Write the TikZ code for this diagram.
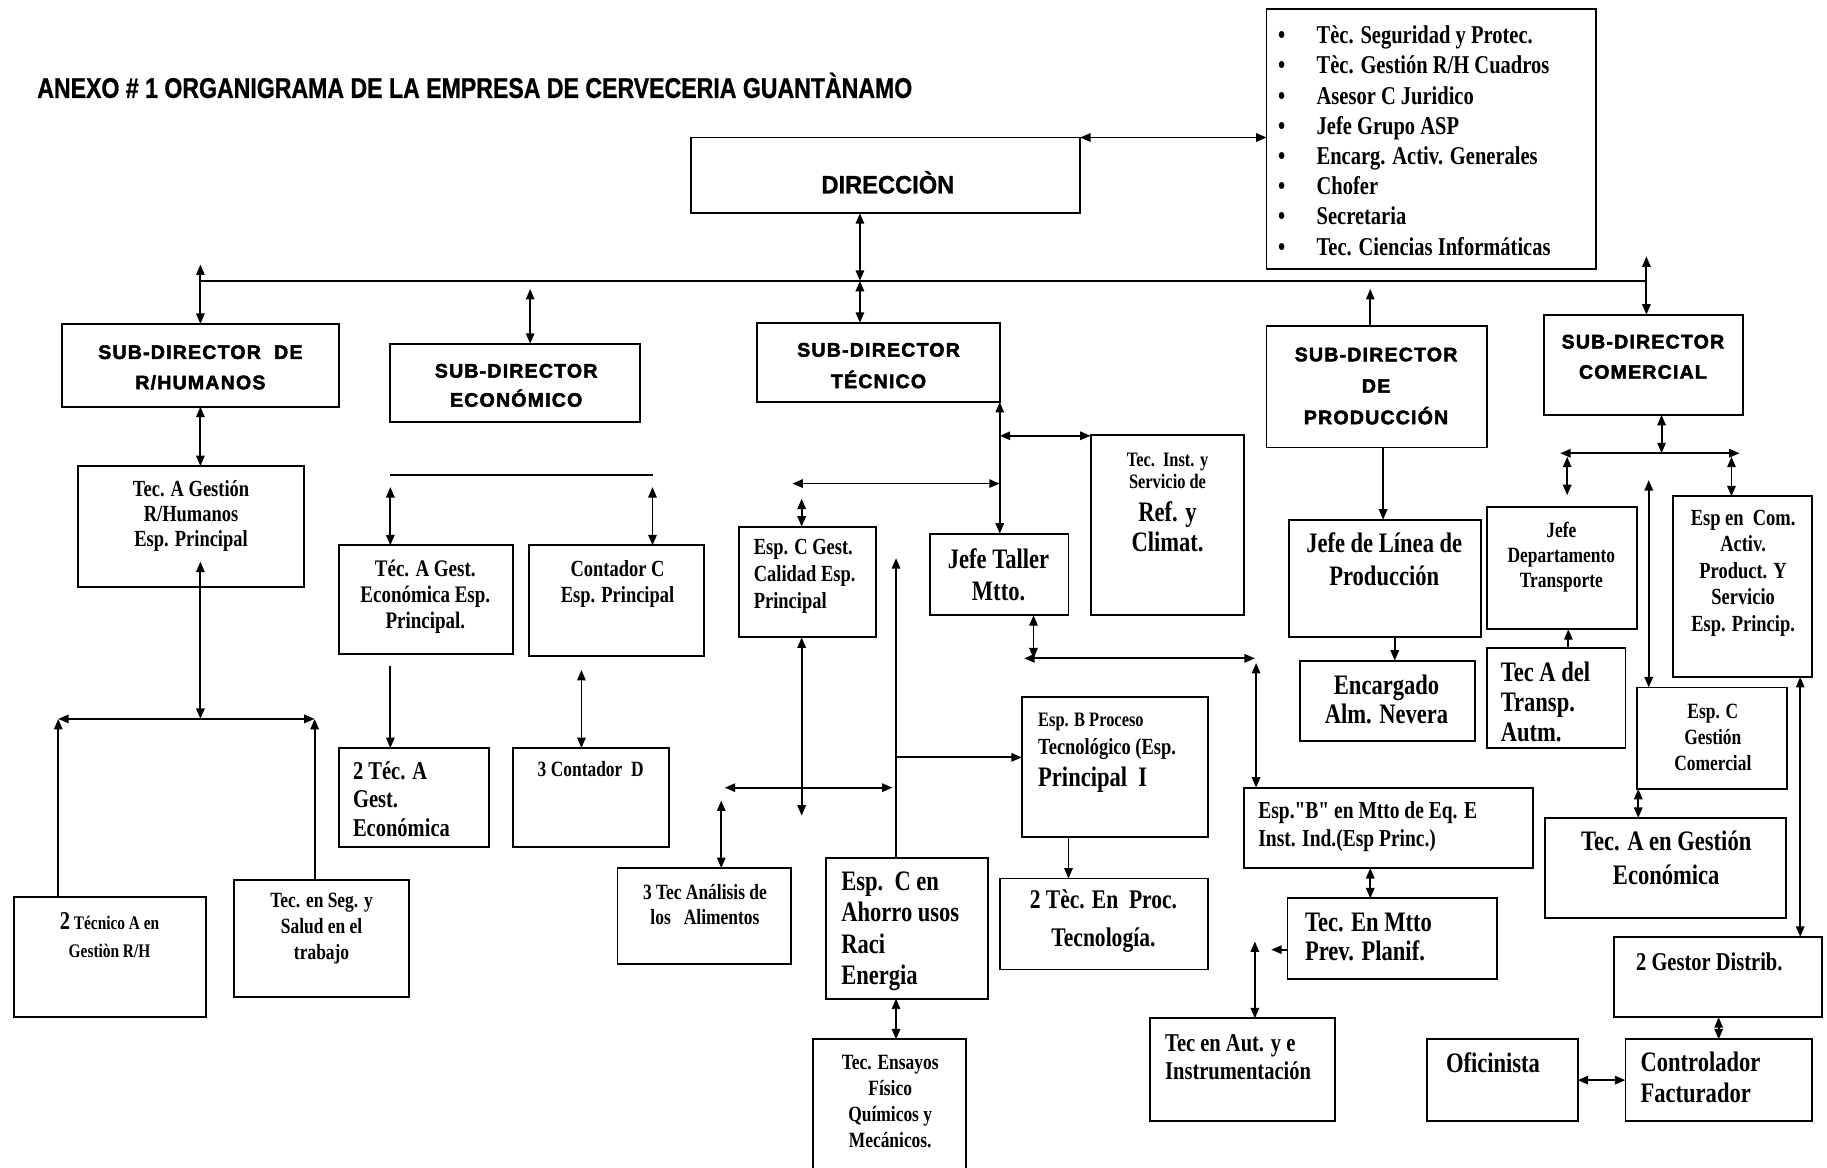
\documentclass[tikz,border=0pt]{standalone}
\usepackage{graphicx}
\usepackage{fontspec}
\setmainfont{Liberation Serif}
\newfontfamily\tnr{Liberation Serif}[FakeStretch=0.8]
\newfontfamily\hdr{Liberation Sans}[LetterSpace=6,BoldFeatures={FakeBold=2.5}]
\newfontfamily\ttl{Liberation Sans}[BoldFeatures={FakeBold=1}]
\usetikzlibrary{arrows.meta}
\tikzset{
  bxs/.style={draw, line width=0.8pt, inner sep=0pt, outer sep=0pt, rectangle},
  ln/.style={line width=0.8pt},
  ar/.style={ln, -{Triangle[length=4.5pt,width=3.6pt]}},
  dar/.style={ln, {Triangle[length=4.5pt,width=3.6pt]}-{Triangle[length=4.5pt,width=3.6pt]}},
  tx/.style={inner sep=0pt, outer sep=0pt},
}
\newcommand\mybox[5]{\pgfmathsetmacro\bw{(#4-#2)*0.5}\pgfmathsetmacro\bh{(#5-#3)*0.5}%
  \node[bxs, minimum width=\bw pt, minimum height=\bh pt, anchor=north west] (#1) at (#2,#3) {};}
\newcommand\txc[6]{\pgfmathsetmacro\ty{#3+0.33*#4-0.7*#5}\pgfmathsetmacro\fs{#4*0.55}\pgfmathsetmacro\fb{#5*0.5}%
  \node[tx, align=center, anchor=north, font=\tnr\bfseries\fontsize{\fs pt}{\fb pt}\selectfont] (#1) at (#2,\ty) {\strut #6};}
\newcommand\txl[6]{\pgfmathsetmacro\ty{#3+0.33*#4-0.7*#5}\pgfmathsetmacro\fs{#4*0.55}\pgfmathsetmacro\fb{#5*0.5}%
  \node[tx, align=left, anchor=north west, font=\tnr\bfseries\fontsize{\fs pt}{\fb pt}\selectfont] (#1) at (#2,\ty) {\strut #6};}
\newcommand\txh[5]{\pgfmathsetmacro\ty{#3+0.36*16.8-0.7*#4}\pgfmathsetmacro\fb{#4*0.5}%
  \node[tx, align=center, anchor=north, font=\hdr\bfseries\fontsize{8.4pt}{\fb pt}\selectfont] (#1) at (#2,\ty) {\strut #5};}
\begin{document}
\begin{tikzpicture}[x=0.5pt,y=-0.5pt]
\path[use as bounding box, fill=white] (0,0) rectangle (1568,1002);

% title
\node[tx, anchor=base west, font=\ttl\bfseries\fontsize{12.2pt}{14pt}\selectfont] (title) at (32,84)
  {\resizebox{375.5pt}{\height}{ANEXO \# 1 ORGANIGRAMA DE LA EMPRESA DE CERVECERIA GUANTÀNAMO}};

% boxes
\mybox{dir}{593}{118}{927}{183}
\mybox{lst}{1087}{8}{1370}{231}
\mybox{srh}{53}{278}{291}{349}
\mybox{sec}{335}{295}{549}{362}
\mybox{stc}{650}{277}{858}{345}
\mybox{spr}{1087}{280}{1276}{384}
\mybox{scm}{1325}{270}{1496}{356}
\mybox{rhA}{67}{400}{261}{504}
\mybox{rh2}{12}{770}{177}{873}
\mybox{rhS}{201}{755}{351}{856}
\mybox{ecA}{291}{468}{440}{561}
\mybox{ecC}{454}{468}{604}{563}
\mybox{ec2}{291}{642}{420}{727}
\mybox{ec3}{440}{642}{574}{727}
\mybox{tcC}{634}{452}{752}{547}
\mybox{jt}{798}{458}{917}{528}
\mybox{tci}{936}{373}{1068}{528}
\mybox{espB}{877}{598}{1037}{718}
\mybox{tt}{530}{745}{679}{827}
\mybox{ah}{709}{736}{848}{857}
\mybox{ens}{698}{892}{829}{1008}
\mybox{pr2}{858}{754}{1037}{832}
\mybox{jl}{1106}{446}{1271}{547}
\mybox{enc}{1116}{567}{1266}{636}
\mybox{mB}{1068}{676}{1316}{745}
\mybox{mP}{1105}{771}{1285}{840}
\mybox{aut}{987}{874}{1146}{962}
\mybox{jd}{1276}{435}{1405}{540}
\mybox{ta}{1276}{556}{1395}{642}
\mybox{ecom}{1436}{426}{1555}{581}
\mybox{egc}{1405}{590}{1534}{677}
\mybox{tag}{1326}{702}{1533}{788}
\mybox{gd}{1385}{804}{1564}{873}
\mybox{ctrl}{1395}{892}{1555}{962}
\mybox{ofi}{1225}{892}{1354}{962}

% texts
\node[tx, anchor=base, font=\ttl\bfseries\fontsize{10.8pt}{12pt}\selectfont] (dirt) at (762,166) {\resizebox{57pt}{\height}{DIRECCIÒN}};
\txl{lstb}{1097}{31}{20}{25.9}{•\\•\\•\\•\\•\\•\\•\\•}
\txl{lstt}{1130}{31}{20}{25.9}{Tèc. Seguridad y Protec.\\Tèc. Gestión R/H Cuadros\\Asesor C Juridico\\Jefe Grupo ASP\\Encarg. Activ. Generales\\Chofer\\Secretaria\\Tec. Ciencias Informáticas}
\txh{srht}{172}{302}{26}{SUB-DIRECTOR\ \ DE\\R/HUMANOS}
\txh{sect}{443}{318}{25}{SUB-DIRECTOR\\ECONÓMICO}
\txh{stct}{754}{300}{27}{SUB-DIRECTOR\\TÉCNICO}
\txh{sprt}{1181}{304}{27}{SUB-DIRECTOR\\DE\\PRODUCCIÓN}
\txh{scmt}{1410}{293}{26}{SUB-DIRECTOR\\COMERCIAL}
\txc{rhAt}{164}{420}{18}{21.5}{Tec. A Gestión\\R/Humanos\\Esp. Principal}
\txc{rh2t}{94}{793}{15}{24}{{\fontsize{11pt}{12pt}\selectfont 2} Técnico A en\\Gestiòn R/H}
\txc{rhSt}{276}{773}{17}{22.5}{Tec. en Seg. y\\Salud en el\\trabajo}
\txc{ecAt}{365}{489}{18.5}{22}{Téc. A Gest.\\Económica Esp.\\Principal.}
\txc{ecCt}{530}{489}{18}{22}{Contador C\\Esp. Principal}
\txl{ec2t}{303}{662}{20}{24.5}{2 Téc. A\\Gest.\\Económica}
\txc{ec3t}{507}{661}{17}{22}{3 Contador\ \ D}
\txl{tcCt}{647}{470}{18}{23}{Esp. C Gest.\\Calidad Esp.\\Principal}
\txc{jtt}{857}{481}{22}{27}{Jefe Taller\\Mtto.}
\txc{tcit}{1002}{395}{16}{19}{Tec.\ \ Inst. y\\Servicio de}
\txc{tcit2}{1002}{440}{22}{26}{Ref. y\\Climat.}
\txl{espBt}{891}{618}{16}{24}{Esp. B Proceso}
\txl{espBt2}{891}{642}{18}{24}{Tecnológico (Esp.}
\txl{espBt3}{891}{668}{22}{24}{Principal\ \ I}
\txc{ttt}{605}{766}{17}{22}{3 Tec Análisis de\\los\ \ \ Alimentos}
\txl{aht}{722}{757}{22}{27}{Esp.\ \ C en\\Ahorro usos\\Raci\\Energia}
\txc{enst}{764}{912}{17}{22.5}{Tec. Ensayos\\Físico\\Químicos y\\Mecánicos.}
\txc{pr2t}{947}{773}{21}{32}{2 Tèc. En\ \ Proc.\\Tecnología.}
\txc{jlt}{1188}{467}{22}{28}{Jefe de Línea de\\Producción}
\txc{enct}{1190}{589}{22}{25}{Encargado\\Alm. Nevera}
\txl{mBt}{1080}{696}{19}{24}{Esp."B" en Mtto de Eq. E\\Inst. Ind.(Esp Princ.)}
\txl{mPt}{1120}{792}{22}{25}{Tec. En Mtto\\Prev. Planif.}
\txl{autt}{1000}{896}{20}{24}{Tec en Aut. y e\\Instrumentación}
\txc{jdt}{1340}{456}{17}{21.5}{Jefe\\Departamento\\Transporte}
\txl{tat}{1288}{578}{22}{25.5}{Tec A del\\Transp.\\Autm.}
\txc{ecomt}{1496}{445}{18}{22.7}{Esp en\ \ Com.\\Activ.\\Product. Y\\Servicio\\Esp. Princip.}
\txc{egct}{1470}{611}{17}{22.5}{Esp. C\\Gestión\\Comercial}
\txc{tagt}{1430}{723}{22}{29}{Tec. A en Gestión\\Económica}
\txc{gdt}{1467}{826}{20}{24}{2 Gestor Distrib.}
\txl{ctrlt}{1408}{912}{22}{27}{Controlador\\Facturador}
\txl{ofit}{1241}{913}{22}{24}{Oficinista}

% helper x coordinates
\coordinate (x917) at (917,0);
\coordinate (x1176) at (1176,0);
\coordinate (x1187) at (1187,0);
\coordinate (x1197) at (1197,0);
\coordinate (x1346) at (1346,0);
\coordinate (x1406) at (1406,0);
\coordinate (x1545) at (1545,0);
\coordinate (x1475) at (1475,0);
\coordinate (oy) at (0,927);

% top level
\coordinate (busL) at (172,241); \coordinate (busR) at (1413,241);
\draw[ln] (busL) -- (busR);
\coordinate (rhTop) at (172,227);
\draw[dar] (rhTop) -- (srh.north);
\coordinate (ecTop) at (455,248);
\draw[dar] (ecTop) -- (ecTop|-sec.north);
\coordinate (dJ) at (738,241);
\draw[dar] (dJ|-dir.south) -- (dJ);
\draw[dar] (dJ) -- (dJ|-stc.north);
\coordinate (prTop) at (1176,248);
\draw[ar] (prTop|-spr.north) -- (prTop);
\coordinate (cmTop) at (1413,220);
\draw[dar] (cmTop) -- (cmTop|-scm.north);
\draw[dar] (dir.north east) -- (dir.north east-|lst.west);

% R/H
\draw[dar] (srh.south) -- (srh.south|-rhA.north);
\coordinate (rhIn) at (172,482); \coordinate (rhBus) at (172,617);
\draw[dar] (rhIn) -- (rhBus);
\coordinate (b2L) at (50,617); \coordinate (b2R) at (270,617);
\draw[dar] (b2L) -- (b2R);
\draw[ar] (b2L|-rh2.north) -- (b2L);
\draw[ar] (b2R|-rhS.north) -- (b2R);

% economico
\coordinate (eL) at (335,408); \coordinate (eR) at (560,408);
\draw[ln] (eL) -- (eR);
\coordinate (eA) at (335,418); \coordinate (eC) at (560,418);
\draw[dar] (eA) -- (eA|-ecA.north);
\draw[dar] (eC) -- (eC|-ecC.north);
\coordinate (e2) at (335,572);
\draw[ar] (e2) -- (e2|-ec2.north);
\coordinate (e3) at (499,575);
\draw[dar] (e3) -- (e3|-ec3.north);

% tecnico
\draw[dar] (stc.south east) -- (stc.south east|-jt.north);
\coordinate (t1) at (858,374);
\draw[dar] (t1) -- (t1-|tci.west);
\coordinate (qL) at (680,415); \coordinate (qR) at (858,415);
\draw[dar] (qL) -- (qR);
\coordinate (q1) at (688,428);
\draw[dar] (q1) -- (q1|-tcC.north);
\coordinate (q2) at (688,700);
\draw[dar] (q2|-tcC.south) -- (q2);
\coordinate (aL) at (622,676); \coordinate (aR) at (766,676);
\draw[dar] (aL) -- (aR);
\coordinate (a3) at (619,687);
\draw[dar] (a3) -- (a3|-tt.north);
\coordinate (ahTop) at (769,479);
\draw[ar] (ahTop|-ah.north) -- (ahTop);
\coordinate (ahJ) at (769,650);
\draw[ar] (ahJ) -- (ahJ-|espB.west);
\draw[dar] (ahTop|-ah.south) -- (ahTop|-ens.north);
\coordinate (jtB) at (887,565);
\draw[dar] (jtB|-jt.south) -- (jtB);
\coordinate (mL) at (879,565); \coordinate (mR) at (1077,565);
\draw[dar] (mL) -- (mR);
\coordinate (mV) at (1078,569);
\draw[dar] (mV) -- (mV|-mB.north);
\draw[ar] (espB.south-|x917) -- (pr2.north-|x917);
\draw[dar] (mB.south-|x1176) -- (mP.north-|x1176);
\coordinate (mPl) at (1091,815);
\draw[ar] (mPl-|mP.west) -- (mPl);
\coordinate (au) at (1077,808);
\draw[dar] (au) -- (au|-aut.north);

% produccion
\draw[ar] (spr.south-|x1187) -- (jl.north-|x1187);
\draw[ar] (jl.south-|x1197) -- (enc.north-|x1197);

% comercial
\coordinate (cB) at (1426,389);
\draw[dar] (cB|-scm.south) -- (cB);
\coordinate (cL) at (1339,389); \coordinate (cR) at (1493,389);
\draw[dar] (cL) -- (cR);
\coordinate (c1a) at (1345,392); \coordinate (c1b) at (1345,425);
\draw[dar] (c1a) -- (c1b);
\coordinate (c2a) at (1486,392);
\draw[dar] (c2a) -- (c2a|-ecom.north);
\draw[ar] (ta.north-|x1346) -- (jd.south-|x1346);
\coordinate (c3a) at (1415,412);
\draw[dar] (c3a) -- (c3a|-egc.north);
\draw[dar] (egc.south-|x1406) -- (tag.north-|x1406);
\draw[dar] (ecom.south-|x1545) -- (gd.north-|x1545);
\draw[dar] (gd.south-|x1475) -- (ctrl.north-|x1475);
\draw[dar] (ofi.east|-oy) -- (ctrl.west|-oy);
\end{tikzpicture}
\end{document}
